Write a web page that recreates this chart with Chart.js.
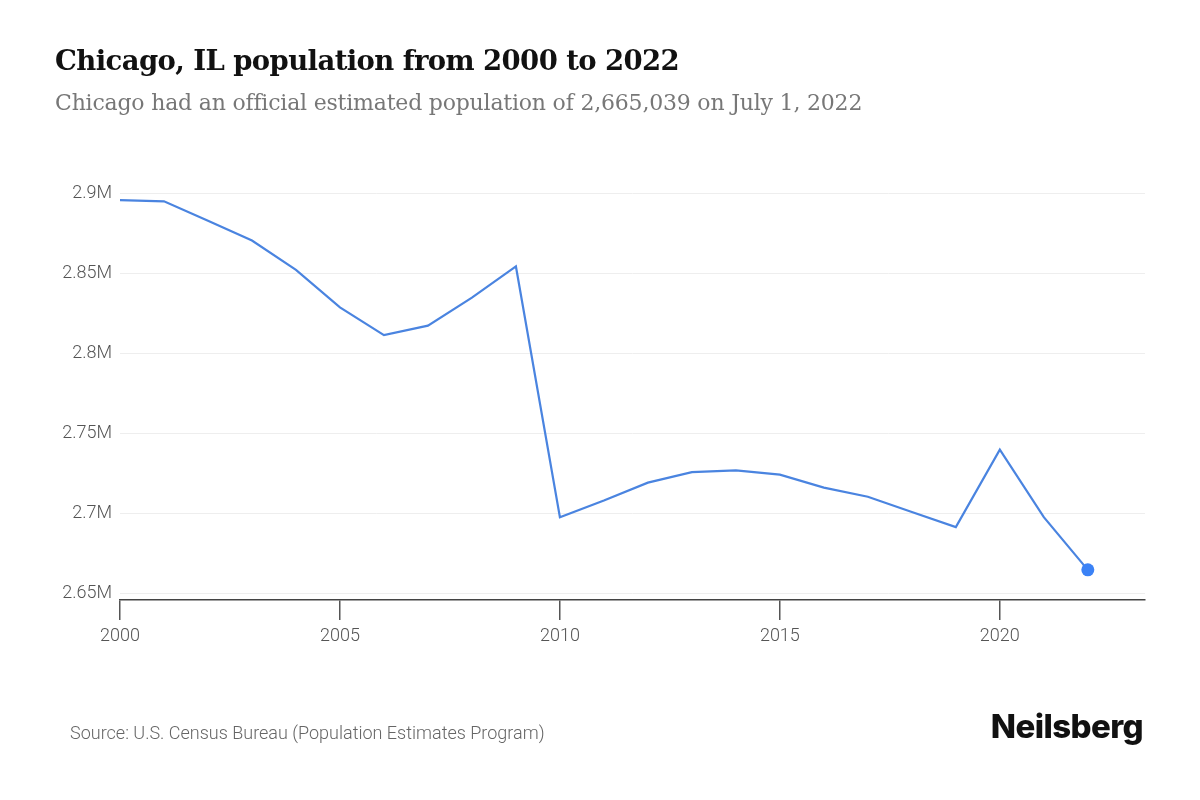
<!DOCTYPE html>
<html>
<head>
<meta charset="utf-8">
<script src="https://cdn.jsdelivr.net/npm/chart.js@4"></script>
<style>
  html, body { margin: 0; padding: 0; background: #fff; }
  #wrap { position: relative; width: 1200px; height: 800px; overflow: hidden; }
  #chart { position: absolute; left: 0; top: 0; }
  .title { position: absolute; left: 55px; top: 44px; font-family: "DejaVu Serif", serif; font-weight: bold; font-size: 27.5px; color: #111; white-space: nowrap; letter-spacing: -0.6px; }
  .subtitle { position: absolute; left: 55px; top: 90px; font-family: "DejaVu Serif", serif; font-size: 22px; color: #777; white-space: nowrap; letter-spacing: -0.2px; }
  .source { position: absolute; left: 70px; top: 722px; font-family: Roboto, sans-serif; font-weight: 300; font-size: 18px; color: #666; white-space: nowrap; }
  .logo { position: absolute; right: 57px; top: 706px; font-family: Inter, Roboto, sans-serif; font-weight: 800; font-size: 33px; letter-spacing: -0.6px; color: #111; }
</style>
</head>
<body>
<div id="wrap">
  <canvas id="chart" width="1200" height="800"></canvas>
  <div class="title">Chicago, IL population from 2000 to 2022</div>
  <div class="subtitle">Chicago had an official estimated population of 2,665,039 on July 1, 2022</div>
  <div class="source">Source: U.S. Census Bureau (Population Estimates Program)</div>
  <div class="logo">Neilsberg</div>
</div>
<script>
// ===== DATA =====
const years = [2000, 2001, 2002, 2003, 2004, 2005, 2006, 2007, 2008, 2009, 2010,
               2011, 2012, 2013, 2014, 2015, 2016, 2017, 2018, 2019, 2020, 2021, 2022];
const population = [2895500, 2894800, 2882700, 2870400, 2852100, 2828700, 2811400, 2817300,
                    2834800, 2854200, 2697900, 2708300, 2719400, 2726000, 2727100, 2724400,
                    2716300, 2710600, 2701100, 2691700, 2740000, 2697900, 2665039];
const yearTicks = [2000, 2005, 2010, 2015, 2020];
const popTicks = [2650000, 2700000, 2750000, 2800000, 2850000, 2900000];

// ===== GRAFIK =====
const points = years.map((y, i) => ({ x: y, y: population[i] }));
const lastIdx = years.length - 1;

new Chart(document.getElementById("chart"), {
    type: "line",
    data: {
        datasets: [{
            data: points,
            borderColor: "#4a84e0",
            borderWidth: 2.2,
            tension: 0,
            pointRadius: ctx => ctx.dataIndex === lastIdx ? 6.5 : 0,
            pointBackgroundColor: "#3b82f6",
            pointBorderWidth: 0,
            clip: false
        }]
    },
    options: {
        responsive: false,
        animation: false,
        layout: { padding: { left: 0, right: 55, top: 193, bottom: 0 } },
        plugins: {
            legend: { display: false },
            tooltip: { enabled: false }
        },
        scales: {
            x: {
                type: "linear",
                min: 2000,
                max: 2023.3,
                afterBuildTicks: s => { s.ticks = yearTicks.map(v => ({ value: v })); },
                afterFit: s => { s.height = 200; },
                grid: { drawOnChartArea: false, drawTicks: true, tickLength: 20, color: "#555", lineWidth: 1.5 },
                border: { display: true, color: "#444", width: 1.5 },
                ticks: {
                    padding: 6,
                    color: "#555",
                    font: { family: "Roboto", size: 18, weight: 300 },
                    callback: v => String(v),
                    maxRotation: 0
                }
            },
            y: {
                min: 2646250,
                max: 2900000,
                afterBuildTicks: s => { s.ticks = popTicks.map(v => ({ value: v })); },
                afterFit: s => { s.width = 120; },
                grid: { color: "#eeeeee", lineWidth: 1, drawTicks: false },
                border: { display: false },
                ticks: {
                    padding: 8,
                    color: "#555",
                    font: { family: "Roboto", size: 18, weight: 300 },
                    callback: v => Number((v / 1e6).toFixed(2)) + "M"
                }
            }
        }
    }
});
</script>
</body>
</html>
